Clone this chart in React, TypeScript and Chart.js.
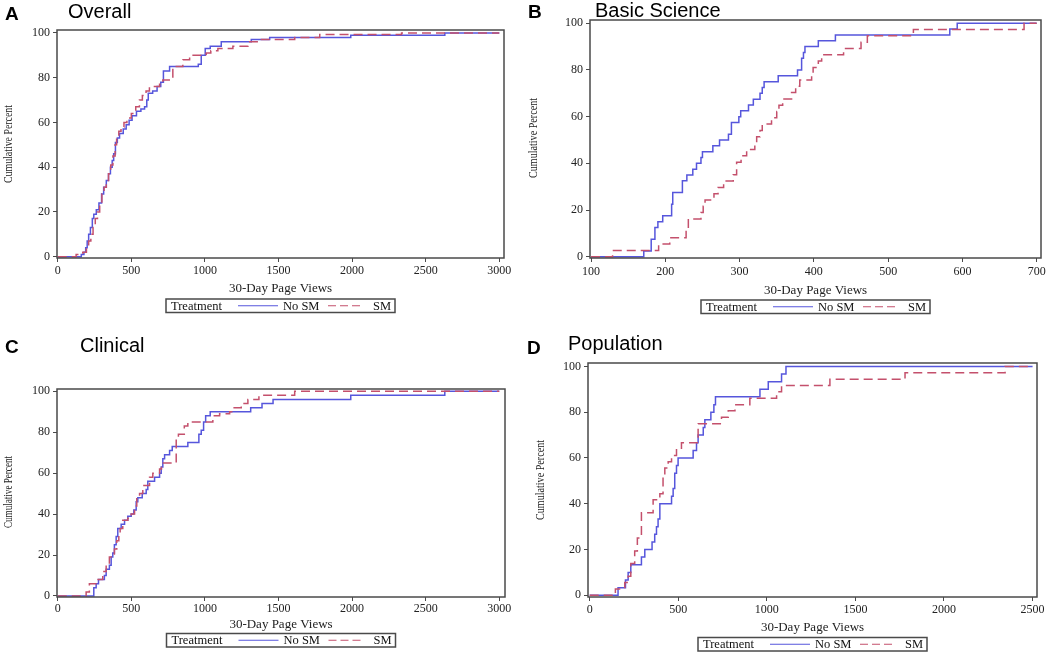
import React, { useEffect, useRef } from "react";
import { Chart, registerables } from "chart.js";

Chart.register(...registerables);

// ---------- text ----------
const seriesLabels = ["No SM", "SM"];
const legendTitle = "Treatment";
const xAxisTitle = "30-Day Page Views";
const yAxisTitle = "Cumulative Percent";
const panelLetters = ["A", "B", "C", "D"];
const panelTitles = ["Overall", "Basic Science", "Clinical", "Population"];

// ---------- tick labels ----------
const yTickValues = [0, 20, 40, 60, 80, 100];
const overallXTicks = [0, 500, 1000, 1500, 2000, 2500, 3000];
const basicXTicks = [100, 200, 300, 400, 500, 600, 700];
const clinicalXTicks = [0, 500, 1000, 1500, 2000, 2500, 3000];
const populationXTicks = [0, 500, 1000, 1500, 2000, 2500];

// ---------- data (30-day page views, cumulative percent) ----------
// A: Overall
const overallNoSmViews = [0, 160, 178, 190, 200, 210, 222, 235, 245, 262, 280, 298, 312, 330, 345, 358, 370, 380, 392, 405, 420, 445, 465, 485, 505, 535, 565, 590, 605, 615, 645, 675, 700, 718, 760, 955, 975, 1002, 1036, 1111, 1315, 1440, 1991, 2630, 3000];
const overallNoSmPct = [0, 1, 2, 4, 7, 10, 13, 17, 19, 21, 24, 28, 31, 34, 37, 40, 43, 46, 51, 53, 55, 57, 59, 61, 63, 65, 66, 67, 70, 73, 74, 76, 78, 83, 85, 86, 90, 93, 94, 96, 97, 98, 99, 100, 100];
const overallSmViews = [0, 125, 170, 195, 210, 225, 240, 255, 270, 285, 300, 315, 330, 345, 360, 375, 390, 400, 415, 430, 450, 470, 500, 530, 555, 575, 600, 623, 692, 714, 782, 850, 896, 1009, 1040, 1088, 1190, 1292, 1372, 1610, 1780, 2336, 3000];
const overallSmPct = [0, 1, 2, 4, 7, 10, 13, 17, 20, 24, 28, 31, 34, 37, 41, 45, 50, 53, 56, 58, 60, 62, 64, 67, 70, 72, 74, 76, 77, 79, 85, 88, 90, 91, 92, 93, 94, 96, 97, 98, 99.3, 100, 100];

// B: Basic Science
const basicNoSmViews = [100, 171, 181, 186, 190, 196.5, 208.5, 210, 223, 229, 237, 242, 248, 250, 264, 273, 285, 289, 299, 301.5, 312, 318.5, 327.5, 330.5, 333, 352, 378, 383.5, 386, 388, 406, 429, 583, 593, 700];
const basicNoSmPct = [0, 2.5, 7.5, 12.5, 15, 17.5, 22.5, 27.5, 32.5, 35, 37.5, 40, 42.5, 45, 47.5, 50, 52.5, 57.5, 60, 62.5, 65, 67.5, 70, 72.5, 75, 77.5, 80, 85, 87.5, 90, 92.5, 95, 97.5, 100, 100];
const basicSmViews = [100, 129, 191, 206, 228, 231, 248, 251, 253.5, 265.5, 271, 278.5, 291.5, 296, 302, 309.5, 320.5, 323, 327.5, 330.5, 343, 350, 353, 358, 370, 375.5, 381, 397, 399, 406, 410.5, 440, 463.5, 472, 534, 683, 700];
const basicSmPct = [0, 2.7, 5.4, 8.1, 10.8, 16.2, 18.9, 21.6, 24.3, 27, 29.7, 32.4, 35.1, 40.5, 43.2, 45.9, 48.6, 51.4, 54.1, 56.8, 59.5, 62.2, 64.9, 67.6, 70.3, 73, 75.7, 78.4, 81.1, 83.8, 86.5, 89.2, 91.9, 94.6, 97.3, 100, 100];

// C: Clinical
const clinicalNoSmViews = [0, 245, 261, 277, 317, 329, 351, 363, 374, 385, 397, 408, 431, 454, 476, 499, 517, 533, 544, 574, 601, 612, 658, 692, 703, 714, 726, 760, 778, 884, 959, 975, 991, 1005, 1036, 1311, 1388, 1463, 1991, 2630, 3000];
const clinicalNoSmPct = [0, 4, 6, 8, 10, 13, 15, 19, 21, 25, 29, 33, 35, 37, 39, 40, 42, 46, 48, 50, 52, 56, 58, 60, 63, 67, 69, 71, 73, 75, 79, 81, 85, 88, 90, 92, 94, 96, 98, 100, 100];
const clinicalSmViews = [0, 193, 215, 261, 306, 329, 351, 385, 401, 415, 424, 442, 476, 499, 522, 537, 556, 578, 624, 646, 692, 705, 805, 820, 860, 884, 1054, 1100, 1168, 1190, 1247, 1292, 1367, 1610, 3000];
const clinicalSmPct = [0, 2, 6, 8, 12, 15, 19, 23, 27, 31, 33, 37, 38, 40, 44, 48, 50, 54, 58, 60, 62, 65, 77, 79, 83, 85, 88, 89, 90, 92, 94, 96, 98, 100, 100];

// D: Population
const populationNoSmViews = [0, 160, 202, 217, 232, 292, 311, 352, 367, 377, 386, 396, 462, 471, 480, 490, 499, 584, 603, 612, 641, 650, 684, 701, 710, 961, 1008, 1083, 1108, 2500];
const populationNoSmPct = [0, 3.3, 6.7, 10, 13.3, 16.7, 20, 23.3, 26.7, 30, 33.3, 40, 43.3, 46.7, 53.3, 56.7, 60, 63.3, 66.7, 70, 73.3, 76.7, 80, 83.3, 86.7, 90, 93.3, 96.7, 100, 100];
const populationSmViews = [0, 145, 198, 217, 232, 254, 269, 292, 358, 396, 414, 424, 443, 462, 490, 518, 612, 744, 782, 820, 904, 1055, 1083, 1356, 1780, 2345, 2500];
const populationSmPct = [0, 2.8, 5.6, 8.3, 13.9, 19.4, 25, 36.1, 41.7, 44.4, 52.8, 55.6, 58.3, 61.1, 63.9, 66.7, 75, 77.8, 80.6, 83.3, 86.1, 88.9, 91.7, 94.4, 97.2, 100, 100];

// ---------- styles ----------
const BLUE = "#5656dc";
const RED = "#c4506c";
const FRAME = "#4a4a4a";
const SERIF = "'Liberation Serif', 'Times New Roman', serif";
const SANS = "'Liberation Sans', Arial, sans-serif";

type PanelCfg = {
  idx: number;
  left: number; top: number; w: number; h: number;
  area: { l: number; t: number; r: number; b: number };
  xMin: number; xMax: number; yMin: number; yMax: number;
  xTicks: number[];
  noSmX: number[]; noSmY: number[]; smX: number[]; smY: number[];
  tickPad: number; xTitleDy: number; legendDy: number;
  yTitleX: number; yTitleY: number; yTitleLen: number;
  letterX: number; letterBase: number; titleX: number; titleBase: number;
};

const panels: PanelCfg[] = [
  {
    idx: 0, left: 0, top: 0, w: 525, h: 320,
    area: { l: 57, t: 30, r: 504, b: 258 },
    xMin: -5, xMax: 3032, yMin: -0.6, yMax: 101.3, xTicks: overallXTicks,
    noSmX: overallNoSmViews, noSmY: overallNoSmPct, smX: overallSmViews, smY: overallSmPct,
    tickPad: 1.5, xTitleDy: 31, legendDy: 41,
    yTitleX: 9, yTitleY: 144, yTitleLen: 78,
    letterX: 5, letterBase: 20, titleX: 68, titleBase: 17.5,
  },
  {
    idx: 1, left: 525, top: 0, w: 525, h: 320,
    area: { l: 65, t: 20, r: 516, b: 258 },
    xMin: 98.6, xMax: 705.8, yMin: -0.55, yMax: 101.4, xTicks: basicXTicks,
    noSmX: basicNoSmViews, noSmY: basicNoSmPct, smX: basicSmViews, smY: basicSmPct,
    tickPad: 2.5, xTitleDy: 33, legendDy: 42,
    yTitleX: 9, yTitleY: 138, yTitleLen: 80,
    letterX: 3, letterBase: 18, titleX: 70, titleBase: 16.5,
  },
  {
    idx: 2, left: 0, top: 320, w: 525, h: 335,
    area: { l: 57, t: 69, r: 505, b: 277 },
    xMin: -5, xMax: 3039, yMin: -0.5, yMax: 101.1, xTicks: clinicalXTicks,
    noSmX: clinicalNoSmViews, noSmY: clinicalNoSmPct, smX: clinicalSmViews, smY: clinicalSmPct,
    tickPad: 0.5, xTitleDy: 27.5, legendDy: 36.5,
    yTitleX: 9, yTitleY: 172, yTitleLen: 72,
    letterX: 5, letterBase: 33, titleX: 80, titleBase: 31.7,
  },
  {
    idx: 3, left: 525, top: 320, w: 525, h: 335,
    area: { l: 63, t: 43, r: 512, b: 277 },
    xMin: -9.6, xMax: 2525, yMin: -0.75, yMax: 101.5, xTicks: populationXTicks,
    noSmX: populationNoSmViews, noSmY: populationNoSmPct, smX: populationSmViews, smY: populationSmPct,
    tickPad: 1.5, xTitleDy: 30.5, legendDy: 40.5,
    yTitleX: 16, yTitleY: 160, yTitleLen: 80,
    letterX: 2, letterBase: 34, titleX: 43, titleBase: 29.5,
  },
];

function toPoints(xs: number[], ys: number[]) {
  return xs.map((x, i) => ({ x, y: ys[i] }));
}

function Panel({ cfg }: { cfg: PanelCfg }) {
  const ref = useRef<HTMLCanvasElement>(null);

  useEffect(() => {
    const canvas = ref.current;
    if (!canvas) return;
    const { area } = cfg;

    const decor = {
      id: "decor",
      afterDraw(chart: any) {
        const ctx = chart.ctx as CanvasRenderingContext2D;
        const ca = chart.chartArea;
        ctx.save();
        // frame
        ctx.strokeStyle = FRAME;
        ctx.lineWidth = 1.5;
        ctx.setLineDash([]);
        ctx.strokeRect(ca.left, ca.top, ca.right - ca.left, ca.bottom - ca.top);

        // panel letter + title
        ctx.fillStyle = "#000";
        ctx.textAlign = "left";
        ctx.textBaseline = "alphabetic";
        ctx.font = `bold 19px ${SANS}`;
        ctx.fillText(panelLetters[cfg.idx], cfg.letterX, cfg.letterBase);
        ctx.font = `20px ${SANS}`;
        ctx.fillText(panelTitles[cfg.idx], cfg.titleX, cfg.titleBase);

        // x title
        const cx = (ca.left + ca.right) / 2;
        ctx.fillStyle = "#222";
        ctx.font = `13px ${SERIF}`;
        ctx.textAlign = "center";
        ctx.textBaseline = "middle";
        ctx.fillText(xAxisTitle, cx, ca.bottom + cfg.xTitleDy);

        // y title
        ctx.save();
        ctx.translate(cfg.yTitleX, cfg.yTitleY);
        ctx.rotate(-Math.PI / 2);
        ctx.font = `13px ${SERIF}`;
        const tw = ctx.measureText(yAxisTitle).width;
        ctx.scale(cfg.yTitleLen / tw, 1);
        ctx.fillText(yAxisTitle, 0, 0);
        ctx.restore();

        // legend box
        const lw = 229, lh = 13.5;
        const lx = cx - lw / 2;
        const ly = ca.bottom + cfg.legendDy;
        const my = ly + lh / 2;
        ctx.strokeStyle = FRAME;
        ctx.lineWidth = 1.5;
        ctx.strokeRect(lx, ly, lw, lh);
        ctx.fillStyle = "#111";
        ctx.font = `12.5px ${SERIF}`;
        ctx.textAlign = "left";
        ctx.textBaseline = "middle";
        ctx.fillText(legendTitle, lx + 5, my + 0.5);
        ctx.lineWidth = 1.2;
        ctx.strokeStyle = BLUE;
        ctx.beginPath();
        ctx.moveTo(lx + 72, my);
        ctx.lineTo(lx + 112, my);
        ctx.stroke();
        ctx.fillText(seriesLabels[0], lx + 117, my + 0.5);
        ctx.strokeStyle = RED;
        ctx.setLineDash([8, 4]);
        ctx.beginPath();
        ctx.moveTo(lx + 162, my);
        ctx.lineTo(lx + 198, my);
        ctx.stroke();
        ctx.setLineDash([]);
        ctx.fillText(seriesLabels[1], lx + 207, my + 0.5);
        ctx.restore();
      },
    };

    const chart = new Chart(canvas, {
      type: "line",
      data: {
        datasets: [
          {
            label: seriesLabels[1],
            data: toPoints(cfg.smX, cfg.smY),
            borderColor: RED,
            backgroundColor: RED,
            borderWidth: 1.5,
            borderDash: [9, 5],
            stepped: "before",
            pointRadius: 0,
            fill: false,
          },
          {
            label: seriesLabels[0],
            data: toPoints(cfg.noSmX, cfg.noSmY),
            borderColor: BLUE,
            backgroundColor: BLUE,
            borderWidth: 1.5,
            stepped: "before",
            pointRadius: 0,
            fill: false,
          },
        ],
      },
      options: {
        animation: false,
        responsive: false,
        devicePixelRatio: 1,
        layout: { padding: { left: 0, top: area.t, right: cfg.w - area.r, bottom: 0 } },
        plugins: {
          legend: { display: false },
          tooltip: { enabled: false },
          title: { display: false },
        },
        scales: {
          x: {
            type: "linear",
            min: cfg.xMin,
            max: cfg.xMax,
            afterBuildTicks: (s: any) => {
              s.ticks = cfg.xTicks.map((v) => ({ value: v }));
            },
            afterFit: (s: any) => {
              s.height = cfg.h - area.b;
              s.paddingLeft = 0;
              s.paddingRight = 0;
            },
            ticks: {
              autoSkip: false,
              maxRotation: 0,
              padding: cfg.tickPad,
              color: "#222",
              font: { family: SERIF, size: 12 },
              callback: (v: any) => String(v),
            },
            grid: { display: true, drawOnChartArea: false, drawTicks: true, tickLength: 4, color: FRAME, lineWidth: 1 },
            border: { display: false },
          },
          y: {
            type: "linear",
            min: cfg.yMin,
            max: cfg.yMax,
            afterBuildTicks: (s: any) => {
              s.ticks = yTickValues.map((v) => ({ value: v }));
            },
            afterFit: (s: any) => {
              s.width = area.l;
              s.paddingTop = 0;
              s.paddingBottom = 0;
            },
            ticks: {
              autoSkip: false,
              padding: 3,
              color: "#222",
              font: { family: SERIF, size: 12 },
              callback: (v: any) => String(v),
            },
            grid: { display: true, drawOnChartArea: false, drawTicks: true, tickLength: 4, color: FRAME, lineWidth: 1 },
            border: { display: false },
          },
        },
      },
      plugins: [decor],
    } as any);

    return () => chart.destroy();
  }, [cfg]);

  return (
    <canvas
      ref={ref}
      width={cfg.w}
      height={cfg.h}
      style={{ position: "absolute", left: cfg.left, top: cfg.top, width: cfg.w, height: cfg.h }}
    />
  );
}

export default function App() {
  return (
    <div style={{ position: "absolute", left: 0, top: 0, width: 1050, height: 655, background: "#fff" }}>
      {panels.map((p) => (
        <Panel key={p.idx} cfg={p} />
      ))}
    </div>
  );
}
